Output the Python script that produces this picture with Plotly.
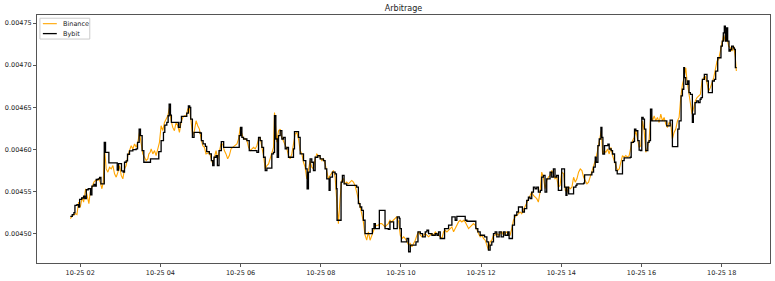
import pandas as pd
import plotly.graph_objects as go

# minutes after 2023-10-25 00:00 and prices
bybit_min = [105.2,108.1,110.6,112.1,115.1,117.6,119.1,122.1,125.1,127.1,129.1,132.0,134.0,135.5,137.5,140.5,142.5,144.0,147.0,149.0,
151.0,154.0,156.0,157.9,160.9,162.9,172.9,175.4,177.4,179.9,181.8,184.3,186.3,188.8,190.8,193.8,198.8,203.8,205.8,208.2,
210.2,212.7,215.2,222.7,225.2,235.6,237.6,241.1,244.6,246.6,249.6,251.6,253.1,255.1,256.5,263.5,267.0,269.5,271.5,276.5,
279.5,281.9,283.9,285.4,287.9,290.4,296.4,299.4,301.4,303.9,307.3,309.3,313.3,316.3,318.3,320.3,323.3,325.3,327.8,331.2,
334.7,357.0,358.0,360.0,362.0,364.5,369.5,373.0,384.4,386.9,389.4,391.9,394.4,396.9,399.4,404.4,406.8,409.3,410.8,412.8,
414.8,416.8,419.3,421.8,424.3,426.8,429.3,431.7,436.7,439.2,440.7,444.7,446.7,449.2,452.7,454.2,457.6,459.6,461.6,464.1,
466.6,469.1,471.6,475.6,479.1,484.0,486.5,489.0,492.5,494.0,497.5,501.5,503.5,504.4,507.4,510.4,512.4,514.9,518.9,533.8,
536.3,538.8,541.3,543.8,546.3,555.2,557.2,559.7,561.7,565.2,567.7,574.2,576.2,581.1,583.6,587.1,589.1,593.1,594.5,597.5,
598.6,600.6,606.5,609.0,611.5,614.0,619.0,622.5,625.5,629.0,632.4,636.4,638.9,641.4,646.4,651.4,653.9,656.3,658.8,662.3,
665.3,668.8,671.3,673.8,676.3,681.2,683.7,693.7,696.2,698.7,711.1,712.1,715.1,718.6,722.1,725.1,728.6,731.0,733.5,736.0,
738.5,741.0,743.5,747.0,750.0,753.5,755.9,759.9,761.9,764.9,766.9,769.9,773.4,775.9,779.8,781.8,784.8,788.3,790.8,793.3,
795.8,798.3,800.8,803.3,805.7,808.7,810.7,813.2,815.7,818.2,823.2,825.7,828.2,830.6,833.1,835.6,838.1,840.6,843.1,844.8,
847.0,848.5,851.0,855.9,858.4,861.9,863.4,873.4,874.9,883.3,885.8,888.3,890.8,892.3,894.8,896.8,899.3,900.8,902.3,904.7,
909.7,911.7,914.7,916.7,919.7,921.7,923.7,930.6,931.6,934.1,943.1,944.6,948.1,949.6,951.6,954.5,956.5,958.5,960.5,962.5,
964.5,966.5,969.5,971.5,973.5,975.5,995.4,997.9,1000.4,1002.9,1004.3,1006.3,1012.8,1014.3,1016.3,1019.3,1021.3,1023.3,1024.3,1026.3,
1029.2,1031.2,1033.2,1036.2,1037.7,1040.2,1042.7,1045.2,1047.7,1049.2,1051.2,1054.1,1056.1,1058.1,1060.1,1064.1,1066.1,1069.1,1071.1,1074.1,
1076.1,1079.0,1081.0,1082.5,1084.0,1085.5,1087.5,1089.0,1091.0,1093.0,1095.0,1097.5,1099.0,1100.5,1102.5]

bybit_price = [0.0045205,0.0045225,0.0045248,0.0045335,0.0045343,0.0045315,0.0045406,0.0045422,0.0045445,0.0045414,0.0045520,0.0045532,0.0045532,0.0045461,0.0045564,0.0045583,0.0045564,0.0045642,0.0045650,0.0045666,
0.0045591,0.0045591,0.0046084,0.0045965,0.0045965,0.0045839,0.0045839,0.0045753,0.0045831,0.0045831,0.0045745,0.0045729,0.0045847,0.0045863,0.0045942,0.0045981,0.0045997,0.0046005,0.0046084,0.0046241,
0.0046162,0.0045985,0.0045847,0.0045847,0.0045887,0.0045887,0.0045973,0.0046103,0.0046202,0.0046288,0.0046320,0.0046399,0.0046537,0.0046407,0.0046320,0.0046320,0.0046261,0.0046320,0.0046391,0.0046391,
0.0046430,0.0046517,0.0046497,0.0046359,0.0046143,0.0046202,0.0046202,0.0046194,0.0046103,0.0046064,0.0046036,0.0045973,0.0045946,0.0045867,0.0045808,0.0045906,0.0045926,0.0045808,0.0045985,0.0046091,
0.0046024,0.0046024,0.0046162,0.0046261,0.0046143,0.0046123,0.0046103,0.0045985,0.0045965,0.0046143,0.0046103,0.0046024,0.0045906,0.0045749,0.0045776,0.0045776,0.0045946,0.0045965,0.0046399,0.0046123,
0.0045906,0.0046162,0.0046222,0.0046123,0.0046143,0.0046005,0.0046024,0.0045906,0.0045906,0.0046005,0.0046210,0.0046210,0.0046143,0.0045946,0.0045946,0.0045867,0.0045768,0.0045532,0.0045729,0.0045887,
0.0045847,0.0045749,0.0045906,0.0045926,0.0045887,0.0045867,0.0045768,0.0045650,0.0045512,0.0045670,0.0045729,0.0045709,0.0045532,0.0045158,0.0045158,0.0045611,0.0045690,0.0045591,0.0045571,0.0045552,
0.0045355,0.0045315,0.0045276,0.0045158,0.0045000,0.0045000,0.0045059,0.0045118,0.0045059,0.0045059,0.0045276,0.0045276,0.0045059,0.0045051,0.0045138,0.0045138,0.0045059,0.0045059,0.0045197,0.0045180,
0.0045059,0.0044902,0.0044902,0.0044941,0.0044784,0.0044862,0.0044862,0.0044902,0.0045020,0.0045000,0.0044961,0.0045020,0.0045039,0.0045000,0.0044980,0.0045000,0.0044980,0.0045020,0.0044941,0.0044941,
0.0045059,0.0045059,0.0045099,0.0045099,0.0045197,0.0045158,0.0045205,0.0045205,0.0045158,0.0045146,0.0045146,0.0045059,0.0045020,0.0044980,0.0044980,0.0044961,0.0044902,0.0044803,0.0044862,0.0044902,
0.0045000,0.0045020,0.0044961,0.0045020,0.0044961,0.0045020,0.0044980,0.0045020,0.0044941,0.0044941,0.0045099,0.0045217,0.0045256,0.0045315,0.0045315,0.0045256,0.0045296,0.0045394,0.0045433,0.0045414,
0.0045493,0.0045552,0.0045532,0.0045552,0.0045493,0.0045512,0.0045670,0.0045690,0.0045493,0.0045650,0.0045729,0.0045670,0.0045768,0.0045670,0.0045690,0.0045512,0.0045512,0.0045768,0.0045768,0.0045551,
0.0045453,0.0045551,0.0045472,0.0045472,0.0045551,0.0045571,0.0045591,0.0045598,0.0045697,0.0045697,0.0045729,0.0045788,0.0045906,0.0045847,0.0046044,0.0046123,0.0046260,0.0046142,0.0045945,0.0046044,
0.0046063,0.0046004,0.0045985,0.0045945,0.0045847,0.0045748,0.0045709,0.0045709,0.0045866,0.0045898,0.0045906,0.0046083,0.0046095,0.0046241,0.0046221,0.0046103,0.0045992,0.0045985,0.0046379,0.0046359,
0.0046241,0.0045985,0.0046083,0.0046103,0.0046477,0.0046339,0.0046339,0.0046280,0.0046280,0.0046347,0.0046347,0.0046032,0.0046032,0.0046241,0.0046339,0.0046635,0.0046714,0.0046970,0.0046851,0.0046773,
0.0046812,0.0046674,0.0046654,0.0046320,0.0046418,0.0046556,0.0046576,0.0046556,0.0046595,0.0046615,0.0046832,0.0046891,0.0046891,0.0046812,0.0046674,0.0046674,0.0046812,0.0046832,0.0046930,0.0047088,
0.0047088,0.0047226,0.0047285,0.0047383,0.0047462,0.0047285,0.0047442,0.0047285,0.0047167,0.0047186,0.0047226,0.0047206,0.0047186,0.0046970,0.0046970]

binance_min = [105.2,109.1,113.1,115.1,117.6,120.1,123.1,125.1,128.1,130.1,133.0,135.0,138.0,140.5,143.0,145.5,148.0,150.0,152.5,154.5,
156.5,158.9,161.4,163.9,166.4,168.9,171.4,173.9,176.4,178.9,181.4,183.8,186.3,188.8,191.3,193.8,196.3,198.8,201.3,203.8,
206.3,208.7,211.2,213.7,216.2,218.7,221.2,222.7,224.7,226.2,228.7,231.2,233.6,236.1,238.6,241.1,243.6,246.1,248.6,251.1,
253.6,256.1,258.5,261.0,263.5,266.0,268.5,271.0,273.5,276.0,278.5,281.0,283.4,285.9,288.4,290.9,293.4,295.9,298.4,300.9,
303.4,305.9,308.3,313.3,315.8,318.3,320.8,323.3,325.8,328.3,330.7,333.2,335.7,338.2,340.7,343.2,345.7,348.2,352.1,354.6,
357.0,359.5,362.0,364.5,367.0,369.5,372.0,374.5,377.0,379.5,381.9,384.4,386.9,389.4,391.9,394.4,396.9,399.4,401.9,404.4,
406.8,409.3,410.8,412.8,414.3,416.8,419.3,421.8,424.3,426.8,429.3,431.7,434.2,436.7,439.2,441.7,444.2,446.7,449.2,451.7,
454.2,456.6,459.1,461.6,464.1,466.6,469.1,471.6,474.1,476.6,479.1,481.5,484.0,486.5,489.0,491.5,494.0,496.5,499.0,501.5,
504.0,506.4,508.9,511.4,513.9,516.4,518.9,521.4,523.9,526.4,528.9,531.3,533.8,536.3,538.8,541.3,543.8,546.3,548.8,551.3,
553.8,556.2,558.7,561.2,563.7,566.2,568.7,571.2,573.7,576.2,578.7,581.1,583.6,586.1,588.6,591.1,593.6,596.6,599.1,601.6,
604.1,606.5,609.0,611.5,614.0,616.5,619.0,621.5,624.0,626.5,629.0,631.4,633.9,636.4,638.9,641.4,643.9,646.4,648.9,651.4,
653.9,656.3,658.8,661.3,663.8,666.3,668.8,671.3,673.8,676.3,678.8,681.2,683.7,686.2,688.7,691.2,693.7,696.2,698.7,701.2,
703.7,706.1,708.6,711.1,713.6,716.1,718.6,721.1,723.6,726.1,728.6,731.0,733.5,736.0,738.5,741.0,743.5,746.0,748.5,751.0,
753.5,755.9,758.4,760.9,763.4,765.9,768.4,770.9,773.4,775.9,778.4,780.8,783.3,785.8,788.3,790.8,793.3,795.8,798.3,800.8,
803.3,805.7,808.2,810.7,813.2,815.7,818.2,820.7,823.2,825.7,828.2,830.6,833.1,835.6,838.1,840.6,843.5,846.0,848.5,851.0,
853.5,855.9,858.4,860.9,863.4,865.9,868.4,870.9,873.4,875.9,878.4,880.8,883.3,885.8,888.3,890.8,893.3,895.8,898.3,899.8,
901.8,904.2,906.7,909.2,911.7,914.2,916.7,919.2,921.7,924.2,926.7,929.1,931.6,934.1,936.6,939.1,941.6,944.1,946.6,949.1,
951.6,954.0,956.5,959.0,961.5,964.0,966.5,969.0,971.5,974.0,976.5,979.0,981.4,983.9,986.4,988.9,991.4,993.9,996.4,998.9,
1001.4,1003.8,1006.3,1008.8,1011.3,1013.8,1016.3,1018.8,1021.3,1023.8,1026.3,1028.2,1030.7,1033.2,1035.7,1038.2,1040.7,1043.2,1045.7,1048.2,
1050.7,1053.1,1055.6,1058.1,1060.6,1063.1,1065.6,1068.1,1070.6,1073.1,1075.6,1078.0,1080.5,1083.0,1085.5,1088.0,1090.5,1093.0,1095.5,1098.0,
1100.5,1102.0]

binance_price = [0.0045177,0.0045217,0.0045236,0.0045225,0.0045374,0.0045315,0.0045434,0.0045374,0.0045532,0.0045453,0.0045355,0.0045493,0.0045552,0.0045611,0.0045631,0.0045631,0.0045650,0.0045611,0.0045532,0.0045611,
0.0046005,0.0045768,0.0045729,0.0045788,0.0045768,0.0045808,0.0045709,0.0045670,0.0045729,0.0045808,0.0045690,0.0045650,0.0045768,0.0045808,0.0045926,0.0045985,0.0046044,0.0046005,0.0046064,0.0046024,
0.0046084,0.0046202,0.0046084,0.0045946,0.0045906,0.0045867,0.0045887,0.0045946,0.0045965,0.0046005,0.0045946,0.0045985,0.0045926,0.0046024,0.0046084,0.0046281,0.0046222,0.0046320,0.0046360,0.0046399,
0.0046497,0.0046340,0.0046261,0.0046222,0.0046320,0.0046281,0.0046202,0.0046320,0.0046379,0.0046399,0.0046399,0.0046478,0.0046497,0.0046359,0.0046162,0.0046222,0.0046340,0.0046281,0.0046241,0.0046123,
0.0046044,0.0046024,0.0045946,0.0045965,0.0045887,0.0045827,0.0045906,0.0045985,0.0045887,0.0045985,0.0046064,0.0046064,0.0045985,0.0045946,0.0045887,0.0045926,0.0046005,0.0046024,0.0046044,0.0046064,
0.0046123,0.0046261,0.0046182,0.0046123,0.0046131,0.0046103,0.0046024,0.0045985,0.0046005,0.0046024,0.0046005,0.0046044,0.0046123,0.0046143,0.0046024,0.0045926,0.0045768,0.0045808,0.0045827,0.0045887,
0.0045965,0.0046024,0.0046438,0.0046202,0.0046084,0.0046222,0.0046241,0.0046143,0.0046103,0.0046044,0.0046005,0.0045926,0.0045887,0.0045946,0.0046064,0.0046182,0.0046202,0.0046123,0.0045985,0.0045946,
0.0045847,0.0045788,0.0045650,0.0045768,0.0045867,0.0045788,0.0045768,0.0045887,0.0045946,0.0045926,0.0045906,0.0045867,0.0045887,0.0045827,0.0045729,0.0045650,0.0045690,0.0045729,0.0045749,0.0045670,
0.0045355,0.0045118,0.0045414,0.0045631,0.0045650,0.0045591,0.0045611,0.0045591,0.0045611,0.0045631,0.0045611,0.0045571,0.0045493,0.0045414,0.0045315,0.0045236,0.0045138,0.0044980,0.0044921,0.0045020,
0.0044921,0.0044980,0.0045039,0.0045079,0.0045099,0.0045099,0.0045118,0.0045118,0.0045099,0.0045079,0.0045099,0.0045118,0.0045158,0.0045138,0.0045158,0.0045177,0.0045197,0.0045138,0.0044980,0.0044941,
0.0044961,0.0044941,0.0044902,0.0044862,0.0044882,0.0044843,0.0044882,0.0044921,0.0044980,0.0045020,0.0044980,0.0044961,0.0044980,0.0045000,0.0044980,0.0044961,0.0044980,0.0045000,0.0044980,0.0045020,
0.0045000,0.0044980,0.0044961,0.0044941,0.0045020,0.0045039,0.0045020,0.0045039,0.0045059,0.0045079,0.0045020,0.0045059,0.0045099,0.0045138,0.0045158,0.0045138,0.0045158,0.0045138,0.0045099,0.0045059,
0.0045079,0.0045099,0.0045118,0.0045099,0.0045039,0.0045000,0.0044961,0.0044980,0.0044941,0.0044921,0.0044862,0.0044803,0.0044902,0.0044921,0.0044980,0.0044980,0.0045000,0.0044980,0.0045000,0.0045020,
0.0044980,0.0045000,0.0045020,0.0044980,0.0044980,0.0045059,0.0045158,0.0045197,0.0045217,0.0045236,0.0045256,0.0045236,0.0045276,0.0045335,0.0045374,0.0045414,0.0045453,0.0045493,0.0045453,0.0045433,
0.0045414,0.0045374,0.0045493,0.0045729,0.0045670,0.0045532,0.0045631,0.0045670,0.0045690,0.0045749,0.0045709,0.0045650,0.0045670,0.0045552,0.0045571,0.0045729,0.0045709,0.0045512,0.0045492,0.0045551,
0.0045532,0.0045551,0.0045669,0.0045610,0.0045650,0.0045729,0.0045768,0.0045748,0.0045669,0.0045630,0.0045591,0.0045610,0.0045669,0.0045748,0.0045807,0.0045866,0.0045945,0.0046044,0.0046142,0.0046221,
0.0045945,0.0045985,0.0045965,0.0046004,0.0045945,0.0046024,0.0045926,0.0045866,0.0045788,0.0045748,0.0045768,0.0045866,0.0045926,0.0045906,0.0045926,0.0045906,0.0045926,0.0046024,0.0046103,0.0046142,
0.0046221,0.0046123,0.0046024,0.0046044,0.0046339,0.0046221,0.0045965,0.0046024,0.0046123,0.0046418,0.0046339,0.0046398,0.0046339,0.0046379,0.0046319,0.0046418,0.0046339,0.0046379,0.0046300,0.0046260,
0.0046319,0.0046300,0.0046123,0.0046201,0.0046241,0.0046339,0.0046379,0.0046615,0.0046773,0.0046851,0.0046970,0.0046812,0.0046694,0.0046576,0.0046418,0.0046497,0.0046576,0.0046615,0.0046635,0.0046654,
0.0046812,0.0046851,0.0046871,0.0046773,0.0046694,0.0046733,0.0046792,0.0046851,0.0046950,0.0047048,0.0047068,0.0047167,0.0047245,0.0047364,0.0047285,0.0047324,0.0047226,0.0047206,0.0047167,0.0047226,
0.0047088,0.0046930]

base = pd.Timestamp("2023-10-25 00:00")
bybit_time = base + pd.to_timedelta(bybit_min, unit="min")
binance_time = base + pd.to_timedelta(binance_min, unit="min")

FONT = "DejaVu Sans"
fig = go.Figure()
fig.add_trace(go.Scatter(x=binance_time, y=binance_price, mode="lines", name="Binance",
                         line=dict(color="orange", width=1.1), showlegend=False))
fig.add_trace(go.Scatter(x=bybit_time, y=bybit_price, mode="lines", name="Bybit",
                         line=dict(color="black", width=1.3, shape="hv"), showlegend=False))

# matplotlib-like 5% margins
all_t = list(bybit_min) + list(binance_min)
tmin, tmax = min(all_t), max(all_t)
tpad = 0.05 * (tmax - tmin)
all_v = list(bybit_price) + list(binance_price)
vmin, vmax = min(all_v), max(all_v)
vpad = 0.05 * (vmax - vmin)
xr = [base + pd.to_timedelta(tmin - tpad, unit="min"), base + pd.to_timedelta(tmax + tpad, unit="min")]

axis_common = dict(showline=True, mirror=True, linecolor="#555", linewidth=1,
                   ticks="outside", ticklen=3, tickwidth=1, tickcolor="#555",
                   showgrid=False, zeroline=False,
                   tickfont=dict(family=FONT, size=6.5, color="#222"))

fig.update_xaxes(type="date", range=xr, tickformat="%m-%d %H", dtick=7200000,
                 tick0="2023-10-25 00:00", **axis_common)
fig.update_yaxes(range=[vmin - vpad, vmax + vpad], tickformat=".5f", dtick=0.00005,
                 tick0=0.0045, **axis_common)

# legend drawn like matplotlib's compact box
legend_items = [("Binance", "orange", 1.1), ("Bybit", "black", 1.3)]
shapes = [dict(type="rect", xref="paper", yref="paper", x0=0.004, x1=0.072, y0=0.903, y1=0.987,
               line=dict(color="#cccccc", width=1), fillcolor="rgba(255,255,255,0.8)", layer="above")]
annotations = []
for i, (nm, col, w) in enumerate(legend_items):
    yy = 0.965 - i * 0.040
    shapes.append(dict(type="line", xref="paper", yref="paper", x0=0.008, x1=0.027, y0=yy, y1=yy,
                       line=dict(color=col, width=w), layer="above"))
    annotations.append(dict(text=nm, xref="paper", yref="paper", x=0.033, y=yy, xanchor="left",
                            yanchor="middle", showarrow=False, font=dict(family=FONT, size=6.5, color="#222")))

fig.update_layout(
    width=775, height=281,
    margin=dict(l=37, r=4, t=15, b=16),
    paper_bgcolor="white", plot_bgcolor="white",
    title=dict(text="Arbitrage", x=0.5, xref="paper", xanchor="center", y=1 - 8.5 / 281, yanchor="middle",
               font=dict(family=FONT, size=8, color="#222")),
    font=dict(family=FONT),
    shapes=shapes, annotations=annotations,
)

fig.write_html("out.html")
